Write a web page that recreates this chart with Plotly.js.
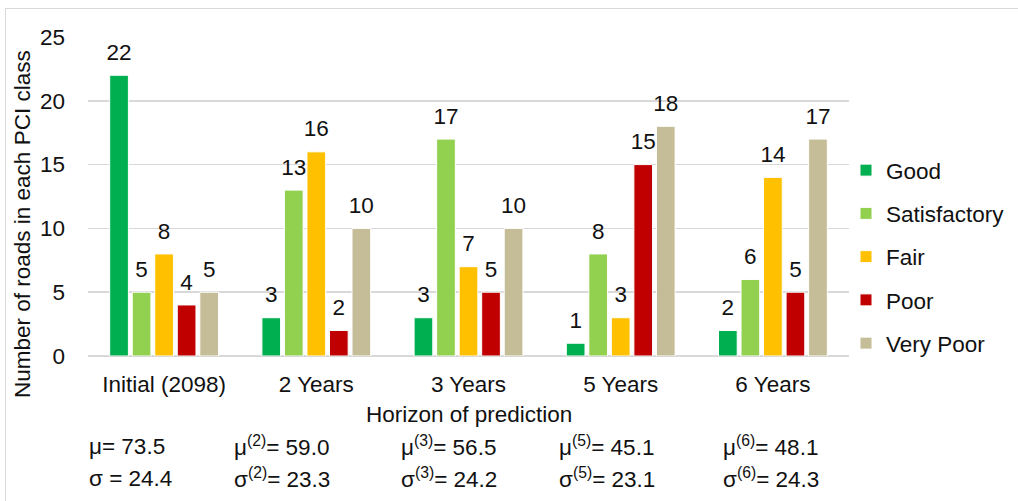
<!DOCTYPE html>
<html>
<head>
<meta charset="utf-8">
<script src="https://cdn.plot.ly/plotly-3.0.1.min.js"></script>
<style>
  html, body { margin: 0; padding: 0; background: #fff; }
  #wrap { position: relative; width: 1018px; height: 501px; overflow: hidden; }
  #chart { position: absolute; left: 0; top: 0; width: 1018px; height: 501px; }
  #frame { position: absolute; left: 5px; top: 8px; width: 1100px; height: 600px;
           border-left: 1.5px solid #d9d9d9; border-top: 1.5px solid #d9d9d9; pointer-events: none; }
</style>
</head>
<body>
<div id="wrap">
  <div id="chart"></div>
  <div id="frame"></div>
</div>
<script>
// ---- data ----
const categories = ["Initial (2098)", "2 Years", "3 Years", "5 Years", "6 Years"];
const seriesNames = ["Good", "Satisfactory", "Fair", "Poor", "Very Poor"];
const good         = [22, 3, 3, 1, 2];
const satisfactory = [5, 13, 17, 8, 6];
const fair         = [8, 16, 7, 3, 14];
const poor         = [4, 2, 5, 15, 5];
const veryPoor     = [5, 10, 10, 18, 17];
const muLabels    = ["μ= 73.5", "μ<sup>(2)</sup>= 59.0", "μ<sup>(3)</sup>= 56.5", "μ<sup>(5)</sup>= 45.1", "μ<sup>(6)</sup>= 48.1"];
const sigmaLabels = ["σ = 24.4", "σ<sup>(2)</sup>= 23.3", "σ<sup>(3)</sup>= 24.2", "σ<sup>(5)</sup>= 23.1", "σ<sup>(6)</sup>= 24.3"];
const yTicks = [0, 5, 10, 15, 20, 25];

// ---- styles ----
const colors = ["#00b050", "#92d050", "#ffc000", "#c00000", "#c4bd97"];
const FONT = "Liberation Sans, Arial, sans-serif";
const FS = 22.5;
const TXT = "#111111";

const values = [good, satisfactory, fair, poor, veryPoor];
const traces = [];
values.forEach((vals, i) => {
  traces.push({
    type: "bar", name: seriesNames[i], x: categories, y: vals,
    marker: { color: colors[i], line: { color: "#ffffff", width: 1 } },
    legendgroup: "g" + i, hoverinfo: "x+y+name"
  });
});
values.forEach((vals, i) => {
  traces.push({
    type: "scatter", mode: "markers+text", x: categories, y: vals,
    text: vals.map(String), textposition: "top center",
    textfont: { family: FONT, size: FS, color: TXT },
    marker: { size: 14, color: "rgba(0,0,0,0)" },
    showlegend: false, hoverinfo: "skip", cliponaxis: false
  });
});

// plot area geometry (px)
const L = 88, R = 169, T = 37, B = 145, W = 1018, H = 501;
const pw = W - L - R, ph = H - T - B;
const px = v => (v - L) / pw;
const py = v => (H - B - v) / ph;

const annotations = [];
const statX = [87, 232, 399, 557, 721];
categories.forEach((c, i) => {
  annotations.push({ xref: "paper", yref: "paper", x: px(statX[i]), y: py(446), xanchor: "left", yanchor: "middle",
    text: muLabels[i], showarrow: false, font: { family: FONT, size: FS, color: TXT } });
  annotations.push({ xref: "paper", yref: "paper", x: px(statX[i]), y: py(478), xanchor: "left", yanchor: "middle",
    text: sigmaLabels[i], showarrow: false, font: { family: FONT, size: FS, color: TXT } });
});
annotations.push({ xref: "paper", yref: "paper", x: px(22), y: py(224), xanchor: "center", yanchor: "middle",
  textangle: -90, text: "Number of roads in each PCI class", showarrow: false, font: { family: FONT, size: FS, color: TXT } });
annotations.push({ xref: "paper", yref: "paper", x: 0.5, y: py(414), xanchor: "center", yanchor: "middle",
  text: "Horizon of prediction", showarrow: false, font: { family: FONT, size: FS, color: TXT } });

const layout = {
  width: W, height: H,
  margin: { l: L, r: R, t: T, b: B, pad: 0, autoexpand: false },
  paper_bgcolor: "#ffffff", plot_bgcolor: "#ffffff",
  font: { family: FONT, size: FS, color: TXT },
  barmode: "group", bargap: 0.26, bargroupgap: 0.17,
  scattermode: "group", scattergap: 0.26,
  showlegend: true,
  legend: { x: px(846), xanchor: "left", y: py(257), yanchor: "middle", traceorder: "grouped",
            tracegroupgap: 11, font: { family: FONT, size: FS, color: TXT }, itemwidth: 30,
            bgcolor: "rgba(0,0,0,0)" },
  xaxis: { type: "category", showgrid: false, showline: false, zeroline: false,
           ticks: "", ticklabelstandoff: 12, tickfont: { family: FONT, size: FS, color: TXT } },
  yaxis: { range: [0, 25], tickvals: yTicks, showgrid: true, gridcolor: "#d9d9d9", gridwidth: 1.5,
           zeroline: true, zerolinecolor: "#d9d9d9", zerolinewidth: 1.5, showline: false,
           ticks: "", ticklabelstandoff: 22, tickfont: { family: FONT, size: FS, color: TXT } },
  annotations: annotations
};

Plotly.newPlot("chart", traces, layout, { displayModeBar: false, staticPlot: true });
</script>
</body>
</html>
